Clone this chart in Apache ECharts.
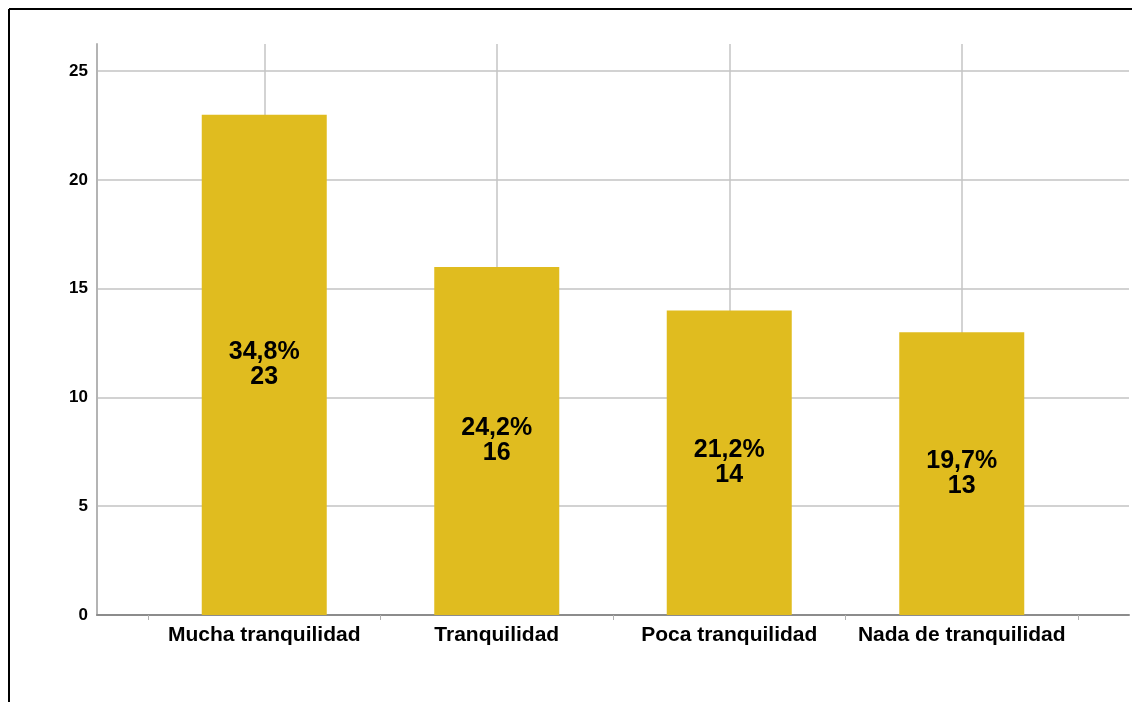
<!DOCTYPE html>
<html>
<head>
<meta charset="utf-8">
<script src="https://cdn.jsdelivr.net/npm/echarts@6/dist/echarts.min.js"></script>
<style>
  body { margin: 0; background: #fff; }
  #main { width: 1132px; height: 702px; }
</style>
</head>
<body>
<div id="main"></div>
<script>
// datos del gráfico
const categorias = ['Mucha tranquilidad', 'Tranquilidad', 'Poca tranquilidad', 'Nada de tranquilidad']
const frecuencias = [23, 16, 14, 13]
const porcentajes = ['34,8%', '24,2%', '21,2%', '19,7%']
const yMax = 26.25

const chart = echarts.init(document.getElementById('main'))
const fuente = 'Liberation Sans, Arial, sans-serif'
const gris = '#d2d2d2'

chart.setOption({
  animation: false,
  graphic: [
    // marco negro (arriba e izquierda)
    { type: 'line', shape: { x1: 9, y1: 9, x2: 1132, y2: 9 }, style: { stroke: '#000', lineWidth: 2 } },
    { type: 'line', shape: { x1: 9, y1: 9, x2: 9, y2: 702 }, style: { stroke: '#000', lineWidth: 2 } }
  ],
  grid: [
    { left: 97, right: 3, top: 44, bottom: 87 },
    { left: 148, right: 54, top: 44, bottom: 87 }
  ],
  xAxis: [
    {
      gridIndex: 0,
      type: 'value',
      min: 0,
      max: 1,
      axisLine: { show: true, lineStyle: { color: '#8c8c8c', width: 2 } },
      axisTick: { show: false },
      axisLabel: { show: false },
      splitLine: { show: false }
    },
    {
      gridIndex: 1,
      type: 'category',
      data: categorias,
      axisLine: { show: false },
      axisTick: { show: true, interval: 0, length: 5, lineStyle: { color: '#b0b0b0' } },
      axisLabel: { interval: 0, color: '#000', fontFamily: fuente, fontWeight: 'bold', fontSize: 21, margin: 10 },
      splitLine: { show: false }
    }
  ],
  yAxis: [
    {
      gridIndex: 0,
      type: 'value',
      min: 0,
      max: yMax,
      interval: 5,
      axisLine: { show: true, lineStyle: { color: '#b4b4b4', width: 2 } },
      axisTick: { show: false },
      axisLabel: {
        color: '#000', fontFamily: fuente, fontWeight: 'bold', fontSize: 17, margin: 9,
        showMaxLabel: false
      },
      // la última línea (máximo) transparente
      splitLine: { show: true, lineStyle: { color: [gris, gris, gris, gris, gris, gris, 'rgba(0,0,0,0)'], width: 2 } }
    },
    {
      gridIndex: 1,
      type: 'value',
      min: 0,
      max: yMax,
      show: false
    }
  ],
  series: [
    {
      // líneas verticales en el centro de cada categoría
      type: 'line',
      xAxisIndex: 1,
      yAxisIndex: 1,
      data: [],
      z: 1,
      markLine: {
        silent: true,
        z: 1,
        symbol: 'none',
        label: { show: false },
        lineStyle: { color: '#c4c4c4', width: 1.5, type: 'solid' },
        data: categorias.map(c => ({ xAxis: c }))
      }
    },
    {
      type: 'bar',
      xAxisIndex: 1,
      yAxisIndex: 1,
      z: 3,
      barWidth: 125,
      data: frecuencias,
      itemStyle: { color: '#e0bc1f' },
      label: {
        show: true,
        position: 'inside',
        color: '#000',
        fontFamily: fuente,
        fontWeight: 'bold',
        fontSize: 25,
        lineHeight: 25,
        formatter: p => porcentajes[p.dataIndex] + '\n' + p.value
      }
    }
  ]
})
</script>
</body>
</html>
